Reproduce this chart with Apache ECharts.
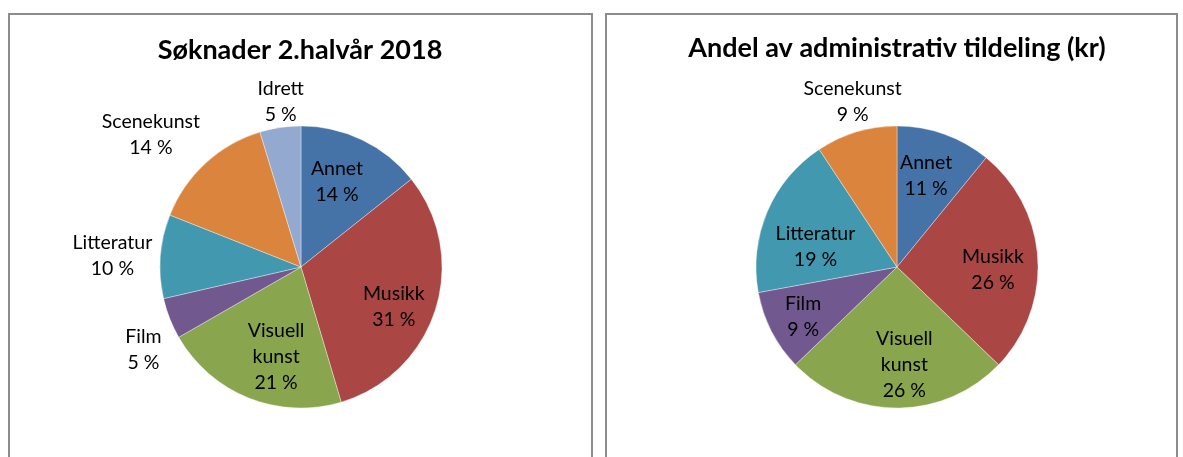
<!DOCTYPE html>
<html>
<head>
<meta charset="utf-8">
<script src="https://cdn.jsdelivr.net/npm/echarts@6/dist/echarts.min.js"></script>
<style>
  html, body { margin: 0; padding: 0; background: #fff; }
  #chart { width: 1183px; height: 457px; }
</style>
</head>
<body>
<div id="chart"></div>
<script>
const titleLeft = 'Søknader 2.halvår 2018';
const titleRight = 'Andel av administrativ tildeling (kr)';

const categoriesLeft = ['Annet', 'Musikk', 'Visuell kunst', 'Film', 'Litteratur', 'Scenekunst', 'Idrett'];
const valuesLeft = [14.3, 31.1, 21.3, 4.7, 9.6, 14.3, 4.7];

const categoriesRight = ['Annet', 'Musikk', 'Visuell kunst', 'Film', 'Litteratur', 'Scenekunst'];
const valuesRight = [10.9, 26.3, 25.6, 9.3, 18.6, 9.3];

const colors = ['#4572A7', '#AA4643', '#89A54E', '#71588F', '#4198AF', '#DB843D', '#93A9CF'];
const fontFamily = 'Lato';

// where each label sits: [radius factor, angle nudge in degrees]
const labelPlaceLeft = [[0.655, -2.8], [0.716, 5.8], [0.662, -6.3], [1.262, -6.3], [1.34, -0.8], [1.418, -6], [1.184, 1.5]];
const labelPlaceRight = [[0.677, -1.9], [0.681, 5.2], [0.696, -4.3], [0.752, -0.5], [0.596, -9], [1.213, 1.7]];

const R = 141;
const centerLeft = [301, 267];
const centerRight = [897, 267];

const makeLayout = function (values, place, c) {
  const total = values.reduce((a, b) => a + b, 0);
  return function (params) {
    const i = params.dataIndex;
    let before = 0;
    for (let j = 0; j < i; j++) before += values[j];
    const a = ((before + values[i] / 2) / total * 360 + place[i][1]) * Math.PI / 180;
    const d = place[i][0] * R;
    return {
      x: c[0] + d * Math.sin(a),
      y: c[1] - d * Math.cos(a),
      align: 'center',
      verticalAlign: 'middle'
    };
  };
};

const makePie = function (names, values, place, c) {
  return {
    type: 'pie',
    center: c,
    radius: R,
    startAngle: 90,
    clockwise: true,
    animation: false,
    silent: true,
    itemStyle: {
      borderColor: 'rgba(255,255,255,0.6)',
      borderWidth: 0.6
    },
    label: {
      show: true,
      color: '#000',
      fontFamily: fontFamily,
      fontSize: 19.5,
      lineHeight: 26,
      align: 'center',
      formatter: (p) => p.name.replace(' ', '\n') + '\n' + Math.round(p.percent) + ' %'
    },
    labelLine: { show: false },
    labelLayout: makeLayout(values, place, c),
    data: names.map((n, i) => ({ name: n, value: values[i], itemStyle: { color: colors[i] } }))
  };
};

const myChart = echarts.init(document.getElementById('chart'));

const option = {
  animation: false,
  graphic: [
    {
      type: 'rect', z: -1,
      shape: { x: 9, y: 14, width: 583, height: 470 },
      style: { fill: 'none', stroke: '#8c8c8c', lineWidth: 2 }
    },
    {
      type: 'rect', z: -1,
      shape: { x: 606, y: 14, width: 571, height: 470 },
      style: { fill: 'none', stroke: '#8c8c8c', lineWidth: 2 }
    },
    {
      type: 'text', x: 300, y: 50,
      style: { text: titleLeft, fill: '#000', font: 'bold 27px ' + fontFamily, align: 'center', verticalAlign: 'middle' }
    },
    {
      type: 'text', x: 897, y: 48,
      style: { text: titleRight, fill: '#000', font: 'bold 27px ' + fontFamily, align: 'center', verticalAlign: 'middle' }
    }
  ],
  series: [
    makePie(categoriesLeft, valuesLeft, labelPlaceLeft, centerLeft),
    makePie(categoriesRight, valuesRight, labelPlaceRight, centerRight)
  ]
};

myChart.setOption(option);
</script>
</body>
</html>
